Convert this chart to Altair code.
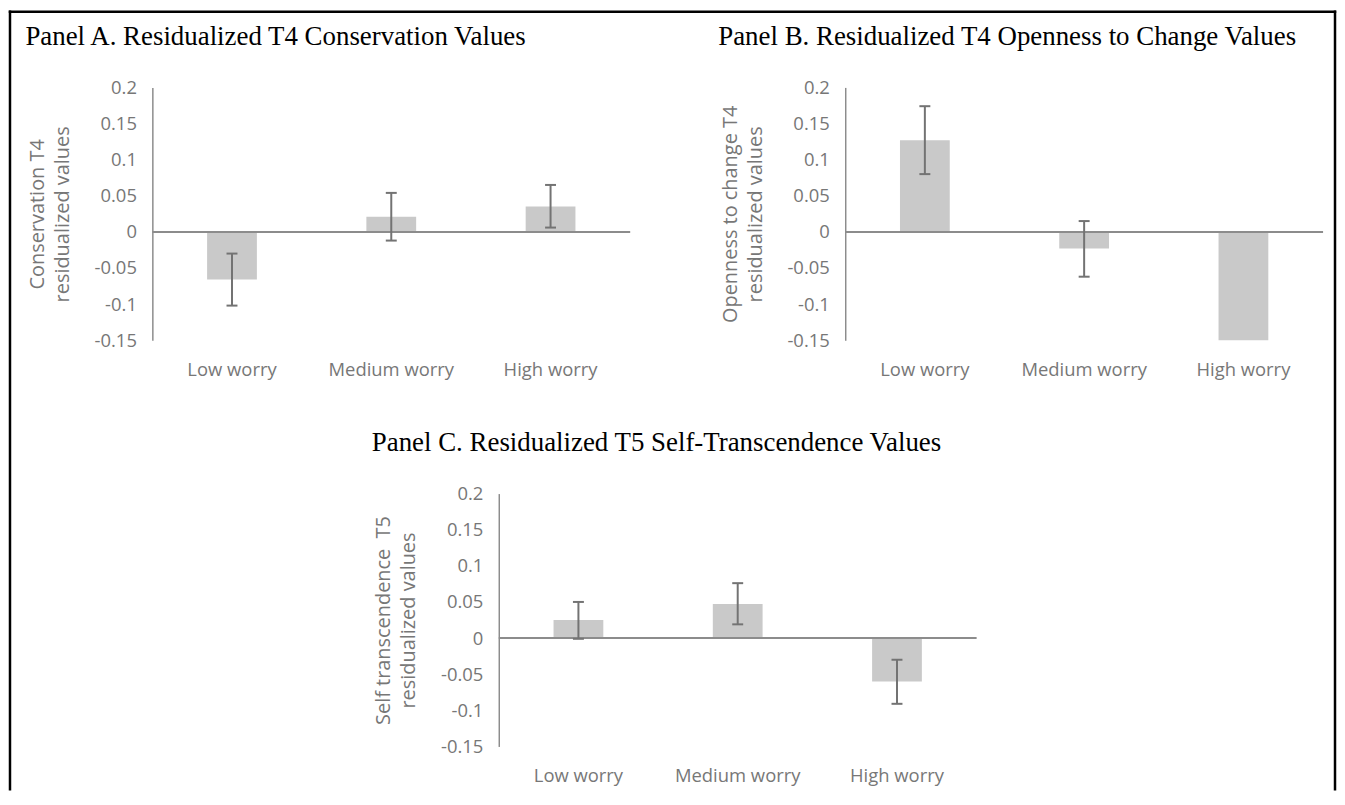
import altair as alt
import pandas as pd

categories = ["Low worry", "Medium worry", "High worry"]
tick_values = [0.2, 0.15, 0.1, 0.05, 0, -0.05, -0.1, -0.15]

a_title = "Panel A. Residualized T4 Conservation Values"
a_ytitle = ["Conservation T4", "residualized values"]
a_mean = [-0.066, 0.021, 0.035]
a_lo = [-0.102, -0.012, 0.006]
a_hi = [-0.030, 0.054, 0.065]

b_title = "Panel B. Residualized T4 Openness to Change Values"
b_ytitle = ["Openness to change T4", "residualized values"]
b_mean = [0.127, -0.023, -0.150]
b_lo = [0.080, -0.062, None]
b_hi = [0.174, 0.015, None]

c_title = "Panel C. Residualized T5 Self-Transcendence Values"
c_ytitle = ["Self transcendence\u00a0 T5", "residualized values"]
c_mean = [0.025, 0.047, -0.060]
c_lo = [-0.001, 0.019, -0.091]
c_hi = [0.050, 0.076, -0.030]

LABEL_FONT = "Open Sans"
TXT_GRAY = "#777777"
AXIS_GRAY = "#8c8c8c"
BAR_GRAY = "#c9c9c9"
ERR_GRAY = "#737373"


def panel(title, ytitle, mean, lo, hi, xrange, cell_width, yoffset):
    df = pd.DataFrame({"cat": categories, "val": mean, "lo": lo, "hi": hi})
    base = alt.Chart(df)
    xscale = alt.Scale(domain=categories, range=xrange,
                       paddingInner=0.6875, paddingOuter=0.34375)
    xaxis = alt.Axis(domain=False, ticks=False, grid=False, labelAngle=0,
                     labelPadding=20, labelFont=LABEL_FONT, labelFontSize=18.5,
                     labelColor=TXT_GRAY, labelOverlap=False)
    xmain = alt.X("cat:N", sort=categories, title=None, scale=xscale, axis=xaxis)
    xplain = alt.X("cat:N", sort=categories, title=None, scale=xscale, axis=None)
    yscale = alt.Scale(domain=[-0.15, 0.2], nice=False, zero=False)
    yaxis = alt.Axis(
        values=tick_values, tickCount=20, labelExpr="toString(datum.value)",
        grid=False, ticks=False, domainColor=AXIS_GRAY, domainWidth=1.5,
        labelPadding=16, labelFont=LABEL_FONT, labelFontSize=18.5,
        labelColor=TXT_GRAY, labelOverlap=False, labelFlush=False,
        offset=yoffset,
        titleFont=LABEL_FONT, titleFontSize=20, titleFontWeight="normal",
        titleColor=TXT_GRAY, titleLineHeight=25, titlePadding=22,
    )
    bars = base.mark_bar(color=BAR_GRAY, opacity=1).encode(
        x=xmain, y=alt.Y("val:Q", scale=yscale, axis=yaxis, title=ytitle)
    )
    # zero line spanning the panel's category range
    zero = alt.Chart(pd.DataFrame({"z": [0]})).mark_rule(
        color=AXIS_GRAY, strokeWidth=2
    ).encode(
        x=alt.X(datum=0, scale=alt.Scale(domain=[0, 1], range=xrange), axis=None),
        x2=alt.X2(datum=1),
        y=alt.Y(datum=0, title=ytitle),
    )
    eb = base.transform_filter("isValid(datum.lo)")
    err = eb.mark_rule(color=ERR_GRAY, strokeWidth=2).encode(
        x=xplain, y=alt.Y("lo:Q", title=ytitle), y2="hi:Q"
    )
    cap_lo = eb.mark_tick(color=ERR_GRAY, size=11, thickness=2, opacity=1).encode(
        x=xplain, y=alt.Y("lo:Q", title=ytitle)
    )
    cap_hi = eb.mark_tick(color=ERR_GRAY, size=11, thickness=2, opacity=1).encode(
        x=xplain, y=alt.Y("hi:Q", title=ytitle)
    )
    return alt.layer(bars, zero, err, cap_lo, cap_hi).resolve_scale(
        x="independent"
    ).properties(
        width=cell_width, height=254,
        title=alt.TitleParams(
            text=title, font="Liberation Serif", fontSize=27,
            fontWeight="normal", color="black", anchor="start",
            frame="bounds", baseline="alphabetic", offset=7, dx=-2,
        ),
    )


pA = panel(a_title, a_ytitle, a_mean, a_lo, a_hi, [0, 480], 480, 0)
pB = panel(b_title, b_ytitle, b_mean, b_lo, b_hi, [0, 480], 480, 0)
# panel C sits in the second column; its content is shifted left onto the centre
pC = panel(c_title, c_ytitle, c_mean, c_lo, c_hi, [-348, 132], 132, 348)

# cell below A that carries the outer frame lines
fb = alt.Chart(pd.DataFrame({"k": [0]}))
frame_style = dict(color="black", strokeWidth=2.5, strokeCap="square")
f_left = fb.mark_rule(**frame_style).encode(
    x=alt.value(-143), y=alt.value(-484), y2=alt.value(297))
f_top = fb.mark_rule(**frame_style).encode(
    x=alt.value(-143), x2=alt.value(1188), y=alt.value(-484))
f_right = fb.mark_rule(**frame_style).encode(
    x=alt.value(1188), y=alt.value(-484), y2=alt.value(297))
frame_cell = alt.layer(f_left, f_top, f_right).properties(width=10, height=10)

chart = alt.concat(
    pA, pB, frame_cell, pC, columns=2,
    spacing={"row": 154, "column": 216}, bounds="flush",
).properties(padding=0, background="white").configure_view(stroke=None)

chart.save("out.html", embed_options={"renderer": "svg", "actions": False})
